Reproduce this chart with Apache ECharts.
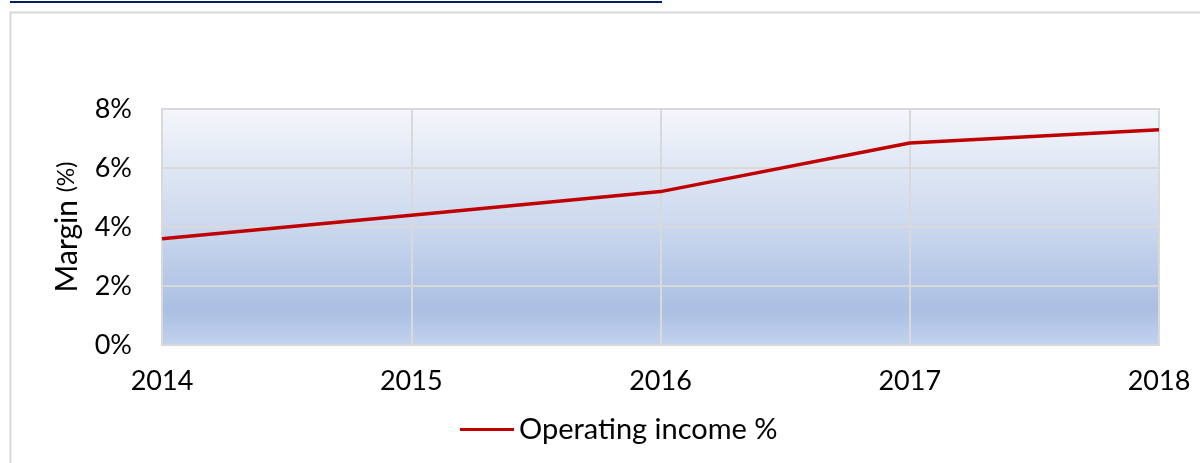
<!DOCTYPE html>
<html>
<head>
<meta charset="utf-8">
<script src="https://cdn.jsdelivr.net/npm/echarts@6/dist/echarts.min.js"></script>
<style>
  html, body { margin: 0; padding: 0; background: #fff; }
  #main { width: 1200px; height: 463px; }
</style>
</head>
<body>
<div id="main"></div>
<script>
const years = ['2014', '2015', '2016', '2017', '2018']
const operatingIncome = [3.6, 4.4, 5.2, 6.85, 7.3]
const seriesName = 'Operating income %'

const chartDom = document.getElementById('main')
const myChart = echarts.init(chartDom)

const option = {
  animation: false,
  textStyle: { fontFamily: 'Lato' },
  graphic: [
    {
      type: 'rect',
      shape: { x: 10, y: 1, width: 652, height: 2 },
      style: { fill: '#002060' }
    },
    {
      type: 'rect',
      shape: { x: 10.5, y: 12.5, width: 1200, height: 520 },
      style: { fill: 'none', stroke: '#d9d9d9', lineWidth: 2 }
    }
  ],
  grid: {
    left: 162,
    right: 41,
    top: 109,
    bottom: 118,
    show: true,
    borderColor: '#d0d0d0',
    borderWidth: 2,
    backgroundColor: {
      type: 'linear', x: 0, y: 0, x2: 0, y2: 1,
      colorStops: [
        { offset: 0, color: '#f4f6fb' },
        { offset: 0.45, color: '#cfdbef' },
        { offset: 0.85, color: '#aabfe3' },
        { offset: 1, color: '#c3d3ee' }
      ]
    }
  },
  legend: {
    left: 455,
    top: 410,
    itemWidth: 54,
    itemHeight: 3,
    itemGap: 6,
    icon: 'rect',
    textStyle: { fontSize: 29, color: '#000', fontFamily: 'Lato' },
    data: [seriesName]
  },
  xAxis: {
    type: 'category',
    data: years,
    boundaryGap: false,
    axisLine: { show: false },
    axisTick: { show: false },
    splitLine: { show: true, lineStyle: { color: '#d9d9d9', width: 2 } },
    axisLabel: { fontSize: 27, color: '#000', margin: 23 }
  },
  yAxis: {
    type: 'value',
    min: 0,
    max: 8,
    interval: 2,
    axisLine: { show: false },
    axisTick: { show: false },
    splitLine: { lineStyle: { color: '#d9d9d9', width: 2 } },
    axisLabel: { fontSize: 27, color: '#000', margin: 30, formatter: '{value}%' },
    name: '{a|Margin }{b|(%)}',
    nameLocation: 'middle',
    nameRotate: 90,
    nameGap: 80,
    nameTextStyle: {
      rich: {
        a: { fontSize: 30, color: '#000', fontFamily: 'Lato' },
        b: { fontSize: 23, color: '#000', fontFamily: 'Lato' }
      }
    }
  },
  series: [
    {
      name: seriesName,
      type: 'line',
      data: operatingIncome,
      symbol: 'none',
      lineStyle: { color: '#c00000', width: 3.5 },
      itemStyle: { color: '#c00000' }
    }
  ]
}

option && myChart.setOption(option)
</script>
</body>
</html>
